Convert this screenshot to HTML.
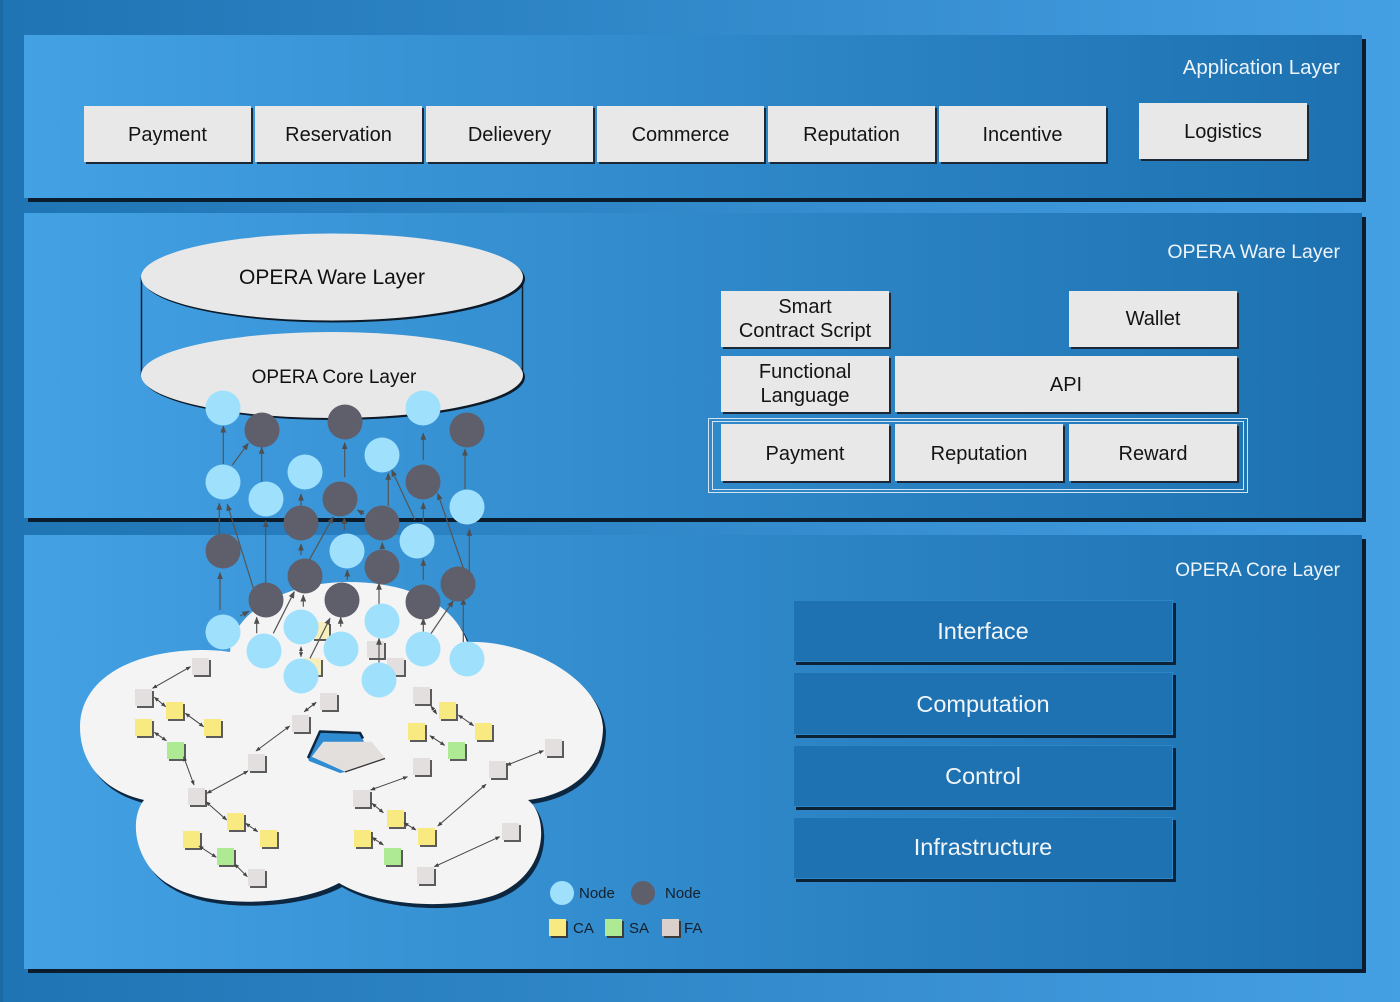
<!DOCTYPE html>
<html><head><meta charset="utf-8">
<style>
html,body{margin:0;padding:0;width:1400px;height:1002px;overflow:hidden;background:#2a80c2}
svg{display:block}
text{font-family:"Liberation Sans",sans-serif}
</style></head><body>
<svg width="1400" height="1002" viewBox="0 0 1400 1002" xmlns="http://www.w3.org/2000/svg">
<defs>
<linearGradient id="bg" gradientUnits="userSpaceOnUse" x1="0" y1="0" x2="1400" y2="0">
<stop offset="0" stop-color="#1f74b3"/><stop offset="1" stop-color="#459fe3"/></linearGradient>
<linearGradient id="pn" gradientUnits="userSpaceOnUse" x1="24" y1="0" x2="1362" y2="0">
<stop offset="0" stop-color="#43a1e4"/><stop offset="1" stop-color="#1d71b0"/></linearGradient>
<marker id="ah" viewBox="0 0 10 10" refX="9" refY="5" markerWidth="6" markerHeight="6" orient="auto-start-reverse"><path d="M0,1 L10,5 L0,9 z" fill="#4f4f4f"/></marker>
<marker id="ah2" viewBox="0 0 10 10" refX="9" refY="5" markerWidth="5" markerHeight="5" orient="auto-start-reverse"><path d="M0,1 L10,5 L0,9 z" fill="#444"/></marker>
</defs>
<rect width="1400" height="1002" fill="url(#bg)"/>
<rect x="0" y="0" width="3" height="1002" fill="#1b6aa6"/>

<!-- panels -->
<rect x="28" y="39" width="1338" height="163" fill="#0b1c2c"/>
<rect x="24" y="35" width="1338" height="163" fill="url(#pn)"/>
<rect x="28" y="217" width="1338" height="305" fill="#0b1c2c"/>
<rect x="24" y="213" width="1338" height="305" fill="url(#pn)"/>
<rect x="28" y="539" width="1338" height="434" fill="#0b1c2c"/>
<rect x="24" y="535" width="1338" height="434" fill="url(#pn)"/>

<!-- layer labels -->
<g fill="#eef4fb" text-anchor="end">
<text x="1340" y="74" font-size="20.5">Application Layer</text>
<text x="1340" y="258" font-size="19.5">OPERA Ware Layer</text>
<text x="1340" y="576" font-size="19">OPERA Core Layer</text>
</g>

<!-- application boxes -->
<g fill="#1c2836">
<rect x="86" y="108" width="167" height="56"/><rect x="257" y="108" width="167" height="56"/>
<rect x="428" y="108" width="167" height="56"/><rect x="599" y="108" width="167" height="56"/>
<rect x="770" y="108" width="167" height="56"/><rect x="941" y="108" width="167" height="56"/>
<rect x="1141" y="105" width="168" height="56"/>
</g>
<g fill="#e8e8e8">
<rect x="84" y="106" width="167" height="56"/><rect x="255" y="106" width="167" height="56"/>
<rect x="426" y="106" width="167" height="56"/><rect x="597" y="106" width="167" height="56"/>
<rect x="768" y="106" width="167" height="56"/><rect x="939" y="106" width="167" height="56"/>
<rect x="1139" y="103" width="168" height="56"/>
</g>
<g fill="#141414" font-size="20" text-anchor="middle">
<text x="167.5" y="141">Payment</text>
<text x="338.5" y="141">Reservation</text>
<text x="509.5" y="141">Delievery</text>
<text x="680.5" y="141">Commerce</text>
<text x="851.5" y="141">Reputation</text>
<text x="1022.5" y="141">Incentive</text>
<text x="1223" y="138">Logistics</text>
</g>

<!-- ware boxes -->
<rect x="708.5" y="418.5" width="539" height="74" fill="none" stroke="#d2e4f2" stroke-width="1"/>
<rect x="712.5" y="421.5" width="531" height="68" fill="none" stroke="#d2e4f2" stroke-width="1"/>
<g fill="#1c2836">
<rect x="723" y="293" width="168" height="56"/><rect x="1071" y="293" width="168" height="56"/>
<rect x="723" y="358" width="168" height="56"/><rect x="897" y="358" width="342" height="56"/>
<rect x="723" y="426" width="168" height="57"/><rect x="897" y="426" width="168" height="57"/><rect x="1071" y="426" width="168" height="57"/>
</g>
<g fill="#e8e8e8">
<rect x="721" y="291" width="168" height="56"/><rect x="1069" y="291" width="168" height="56"/>
<rect x="721" y="356" width="168" height="56"/><rect x="895" y="356" width="342" height="56"/>
<rect x="721" y="424" width="168" height="57"/><rect x="895" y="424" width="168" height="57"/><rect x="1069" y="424" width="168" height="57"/>
</g>
<g fill="#141414" font-size="20" text-anchor="middle">
<text x="805" y="313">Smart</text>
<text x="805" y="337">Contract Script</text>
<text x="1153" y="325">Wallet</text>
<text x="805" y="378">Functional</text>
<text x="805" y="402">Language</text>
<text x="1066" y="391">API</text>
<text x="805" y="460">Payment</text>
<text x="979" y="460">Reputation</text>
<text x="1153" y="460">Reward</text>
</g>

<!-- core boxes -->
<g fill="#0c2236">
<rect x="796" y="603" width="380" height="62"/><rect x="796" y="675" width="380" height="63"/>
<rect x="796" y="748" width="380" height="62"/><rect x="796" y="820" width="380" height="62"/>
</g>
<g fill="#1e72b1" stroke="#2d86c8" stroke-width="1">
<rect x="793.5" y="600.5" width="379" height="61"/><rect x="793.5" y="672.5" width="379" height="62"/>
<rect x="793.5" y="745.5" width="379" height="61"/><rect x="793.5" y="817.5" width="379" height="61"/>
</g>
<g fill="#f2f6fa" font-size="23.5" text-anchor="middle">
<text x="983" y="639">Interface</text>
<text x="983" y="712">Computation</text>
<text x="983" y="784">Control</text>
<text x="983" y="855">Infrastructure</text>
</g>

<!-- cylinder -->
<line x1="141.5" y1="277" x2="141.5" y2="375" stroke="#14202c" stroke-width="1.5"/>
<line x1="522.5" y1="277" x2="522.5" y2="375" stroke="#14202c" stroke-width="1.5"/>
<ellipse cx="334" cy="377" rx="191" ry="43" fill="#0d1a28"/>
<ellipse cx="332" cy="375" rx="191" ry="43" fill="#e8e8e8"/>
<ellipse cx="334" cy="279" rx="191" ry="43.5" fill="#0d1a28"/>
<ellipse cx="332" cy="277" rx="191" ry="43.5" fill="#e8e8e8"/>
<text x="332" y="284" font-size="21" text-anchor="middle" fill="#111">OPERA Ware Layer</text>
<text x="334" y="383" font-size="19" text-anchor="middle" fill="#111">OPERA Core Layer</text>

<!-- cloud -->
<path transform="translate(3,4)" fill="#0d2740" d="M80,727 C80,680 130,651 200,650 C215,650 224,651 230,652 C232,610 290,582 348,582 C410,582 455,605 467,642 C530,640 600,680 603,727 C603,770 570,795 528,800 C548,815 550,870 500,893 C460,910 380,908 339,883 C300,905 210,910 170,885 C135,865 128,820 144,800 C100,790 80,760 80,727 Z"/>
<path fill="#f4f4f4" d="M80,727 C80,680 130,651 200,650 C215,650 224,651 230,652 C232,610 290,582 348,582 C410,582 455,605 467,642 C530,640 600,680 603,727 C603,770 570,795 528,800 C548,815 550,870 500,893 C460,910 380,908 339,883 C300,905 210,910 170,885 C135,865 128,820 144,800 C100,790 80,760 80,727 Z"/>

<!-- hole -->
<polygon points="308,758 320,731.5 360,733 364,742 345,772 340,773 309,761" fill="#2f8bd2"/>
<polyline points="308,758 320,731.5 360,733 363,738.5" fill="none" stroke="#0d2740" stroke-width="2.5" stroke-linejoin="round"/>
<polygon points="311.7,756.7 323.3,741.7 371.7,741.7 385,758.3 345,771.7" fill="#e3dfdd"/>
<line x1="385" y1="758.5" x2="345" y2="772" stroke="#333" stroke-width="1.3"/>

<!-- squares shadows -->
<g fill="#5b5b5b">
<rect x="194" y="660" width="17" height="17"/><rect x="137" y="691" width="17" height="17"/><rect x="168" y="704" width="17" height="17"/><rect x="206" y="721" width="17" height="17"/><rect x="137" y="721" width="17" height="17"/><rect x="169" y="744" width="17" height="17"/><rect x="294" y="717" width="17" height="17"/><rect x="322" y="695" width="17" height="17"/><rect x="250" y="756" width="17" height="17"/><rect x="190" y="790" width="17" height="17"/><rect x="229" y="815" width="17" height="17"/><rect x="262" y="832" width="17" height="17"/><rect x="185" y="833" width="17" height="17"/><rect x="219" y="850" width="17" height="17"/><rect x="250" y="871" width="17" height="17"/>
<rect x="415" y="689" width="17" height="17"/><rect x="441" y="704" width="17" height="17"/><rect x="477" y="725" width="17" height="17"/><rect x="410" y="725" width="17" height="17"/><rect x="450" y="744" width="17" height="17"/><rect x="415" y="760" width="17" height="17"/><rect x="491" y="763" width="17" height="17"/><rect x="547" y="741" width="17" height="17"/><rect x="355" y="792" width="17" height="17"/><rect x="389" y="812" width="17" height="17"/><rect x="420" y="830" width="17" height="17"/><rect x="356" y="832" width="17" height="17"/><rect x="386" y="850" width="17" height="17"/><rect x="504" y="825" width="17" height="17"/><rect x="419" y="869" width="17" height="17"/>
<rect x="314" y="624" width="17" height="17"/><rect x="306" y="660" width="17" height="17"/><rect x="369" y="643" width="17" height="17"/><rect x="389" y="660" width="17" height="17"/>
</g>
<g fill="#e3dfde">
<rect x="192" y="658" width="17" height="17"/><rect x="135" y="689" width="17" height="17"/><rect x="292" y="715" width="17" height="17"/><rect x="320" y="693" width="17" height="17"/><rect x="248" y="754" width="17" height="17"/><rect x="188" y="788" width="17" height="17"/><rect x="248" y="869" width="17" height="17"/>
<rect x="413" y="687" width="17" height="17"/><rect x="413" y="758" width="17" height="17"/><rect x="489" y="761" width="17" height="17"/><rect x="545" y="739" width="17" height="17"/><rect x="353" y="790" width="17" height="17"/><rect x="502" y="823" width="17" height="17"/><rect x="417" y="867" width="17" height="17"/>
<rect x="367" y="641" width="17" height="17"/><rect x="387" y="658" width="17" height="17"/>
</g>
<g fill="#f8ea80">
<rect x="166" y="702" width="17" height="17"/><rect x="204" y="719" width="17" height="17"/><rect x="135" y="719" width="17" height="17"/><rect x="227" y="813" width="17" height="17"/><rect x="260" y="830" width="17" height="17"/><rect x="183" y="831" width="17" height="17"/>
<rect x="439" y="702" width="17" height="17"/><rect x="475" y="723" width="17" height="17"/><rect x="408" y="723" width="17" height="17"/><rect x="387" y="810" width="17" height="17"/><rect x="418" y="828" width="17" height="17"/><rect x="354" y="830" width="17" height="17"/>
</g>
<g fill="#f6eebd">
<rect x="312" y="622" width="17" height="17"/><rect x="304" y="658" width="17" height="17"/>
</g>
<g fill="#aeea94">
<rect x="167" y="742" width="17" height="17"/><rect x="217" y="848" width="17" height="17"/><rect x="448" y="742" width="17" height="17"/><rect x="384" y="848" width="17" height="17"/>
</g>

<!-- cloud arrows -->
<g stroke="#444" stroke-width="1" marker-start="url(#ah2)" marker-end="url(#ah2)">
<line x1="152.6" y1="688.3" x2="190.5" y2="666.7"/>
<line x1="154.4" y1="697.3" x2="165.7" y2="706.7"/>
<line x1="185.4" y1="713.3" x2="203.6" y2="726.7"/>
<line x1="154.4" y1="732.3" x2="166.4" y2="740.7"/>
<line x1="183.6" y1="756.7" x2="194" y2="785"/>
<line x1="207" y1="793.3" x2="248" y2="771"/>
<line x1="256" y1="751" x2="289.7" y2="726"/>
<line x1="304.2" y1="711.7" x2="316.2" y2="702.3"/>
<line x1="206" y1="801.7" x2="226.7" y2="820"/>
<line x1="245.6" y1="823.3" x2="257.7" y2="831.7"/>
<line x1="199" y1="846" x2="216.3" y2="857.3"/>
<line x1="234.6" y1="864" x2="247.3" y2="876.7"/>
<line x1="431" y1="706" x2="436.7" y2="714"/>
<line x1="458.4" y1="715" x2="473.6" y2="725.7"/>
<line x1="429.9" y1="735.7" x2="444.7" y2="745.3"/>
<line x1="506.6" y1="765.3" x2="543.5" y2="750.7"/>
<line x1="370.6" y1="790" x2="407.5" y2="776.7"/>
<line x1="372" y1="803.3" x2="383.4" y2="812.7"/>
<line x1="404" y1="822.7" x2="416" y2="830"/>
<line x1="437.8" y1="826" x2="486" y2="784.3"/>
<line x1="372" y1="837.3" x2="383.4" y2="845"/>
<line x1="434.3" y1="866.7" x2="499.8" y2="836.7"/>
<line x1="301" y1="646.7" x2="301" y2="656.7"/>
</g>

<!-- node arrows -->
<g stroke="#555" stroke-width="1.2" marker-end="url(#ah)">
<line x1="223.3" y1="464" x2="223.3" y2="426"/>
<line x1="232.3" y1="465" x2="248.3" y2="443.3"/>
<line x1="261.7" y1="481.7" x2="261.7" y2="447.3"/>
<line x1="344.7" y1="477.3" x2="344.7" y2="442.7"/>
<line x1="301" y1="506.7" x2="301" y2="494"/>
<line x1="423.3" y1="460" x2="423.3" y2="433.3"/>
<line x1="465" y1="489" x2="465" y2="449"/>
<line x1="219.3" y1="534" x2="219.3" y2="503.3"/>
<line x1="253.3" y1="588" x2="227.3" y2="504.3"/>
<line x1="265.7" y1="586" x2="265.7" y2="520.7"/>
<line x1="388.3" y1="506" x2="388.3" y2="473.3"/>
<line x1="415" y1="520" x2="391.7" y2="470"/>
<line x1="423.3" y1="521.7" x2="423.3" y2="502.7"/>
<line x1="463.3" y1="568" x2="437.7" y2="493.3"/>
<line x1="469.3" y1="571.7" x2="469.3" y2="529.3"/>
<line x1="364.3" y1="514" x2="357.3" y2="510"/>
<line x1="308.3" y1="561.7" x2="333.3" y2="516.7"/>
<line x1="344.3" y1="530" x2="344.3" y2="517.7"/>
<line x1="220" y1="610" x2="220" y2="572.7"/>
<line x1="240" y1="616" x2="249" y2="611.3"/>
<line x1="256.7" y1="633.3" x2="256.7" y2="617.3"/>
<line x1="273.3" y1="633.3" x2="294.3" y2="591.7"/>
<line x1="301" y1="555" x2="301" y2="544"/>
<line x1="303.3" y1="606.7" x2="303.3" y2="595"/>
<line x1="310" y1="658.3" x2="330" y2="618.3"/>
<line x1="340.7" y1="626.7" x2="340.7" y2="617.3"/>
<line x1="347.3" y1="580" x2="347.3" y2="570"/>
<line x1="379" y1="606.7" x2="379" y2="583.3"/>
<line x1="379" y1="663.3" x2="379" y2="638.3"/>
<line x1="382.3" y1="548" x2="382.3" y2="542.7"/>
<line x1="423.3" y1="580" x2="423.3" y2="559.3"/>
<line x1="423.3" y1="631.7" x2="423.3" y2="618.3"/>
<line x1="430" y1="635" x2="453.3" y2="600.7"/>
<line x1="463.3" y1="645" x2="463.3" y2="598.3"/>
</g>

<!-- nodes -->
<g fill="#5f5e6b">
<circle cx="262" cy="430" r="17.5"/><circle cx="345" cy="422" r="17.5"/><circle cx="467" cy="430" r="17.5"/>
<circle cx="423" cy="482" r="17.5"/><circle cx="340" cy="499" r="17.5"/><circle cx="301" cy="523" r="17.5"/>
<circle cx="382" cy="523" r="17.5"/><circle cx="223" cy="551" r="17.5"/><circle cx="266" cy="600" r="17.5"/>
<circle cx="305" cy="576" r="17.5"/><circle cx="342" cy="600" r="17.5"/><circle cx="382" cy="567" r="17.5"/>
<circle cx="423" cy="602" r="17.5"/><circle cx="458" cy="584" r="17.5"/>
</g>
<g fill="#9fe0fd">
<circle cx="223" cy="408" r="17.5"/><circle cx="423" cy="408" r="17.5"/><circle cx="223" cy="482" r="17.5"/>
<circle cx="266" cy="499" r="17.5"/><circle cx="305" cy="472" r="17.5"/><circle cx="382" cy="455" r="17.5"/>
<circle cx="467" cy="507" r="17.5"/><circle cx="417" cy="541" r="17.5"/><circle cx="347" cy="551" r="17.5"/>
<circle cx="223" cy="632" r="17.5"/><circle cx="264" cy="651" r="17.5"/><circle cx="301" cy="627" r="17.5"/>
<circle cx="341" cy="649" r="17.5"/><circle cx="382" cy="621" r="17.5"/><circle cx="423" cy="649" r="17.5"/>
<circle cx="467" cy="659" r="17.5"/><circle cx="301" cy="676" r="17.5"/><circle cx="379" cy="680" r="17.5"/>
</g>

<!-- legend -->
<circle cx="562" cy="893" r="12" fill="#9fe0fd"/>
<circle cx="643" cy="893" r="12" fill="#5f5e6b"/>
<g fill="#15202b" font-size="15">
<text x="579" y="898">Node</text>
<text x="665" y="898">Node</text>
<text x="573" y="933">CA</text>
<text x="629" y="933">SA</text>
<text x="684" y="933">FA</text>
</g>
<g fill="#3b3b3b">
<rect x="551" y="921" width="17" height="17"/><rect x="607" y="921" width="17" height="17"/><rect x="664" y="921" width="17" height="17"/>
</g>
<rect x="549" y="919" width="17" height="17" fill="#f8ea80"/>
<rect x="605" y="919" width="17" height="17" fill="#aeea94"/>
<rect x="662" y="919" width="17" height="17" fill="#dbd0cc"/>
</svg>
</body></html>
